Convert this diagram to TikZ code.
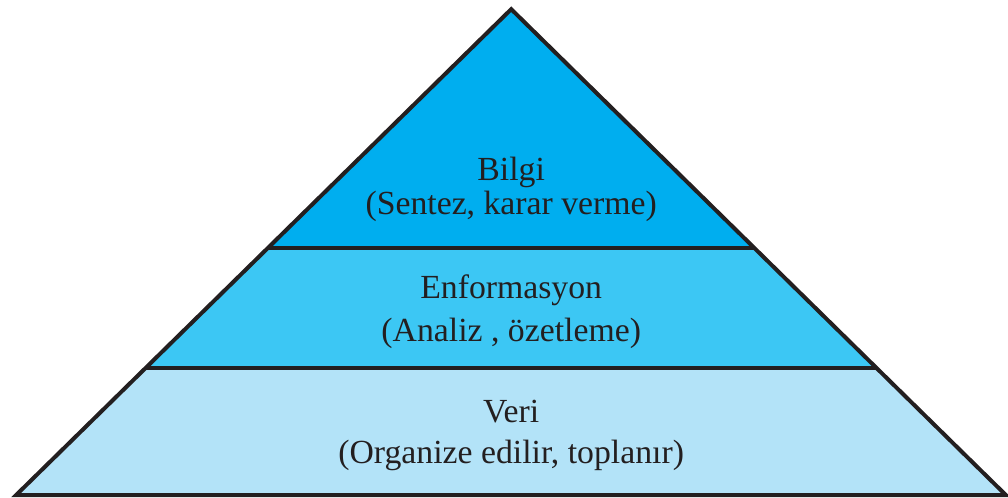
\documentclass[tikz,border=0pt]{standalone}
\usepackage{fontspec}
\setmainfont{Liberation Serif}
\usetikzlibrary{calc}
\definecolor{layerTop}{HTML}{00AEEF}
\definecolor{layerMid}{HTML}{3CC7F4}
\definecolor{layerLow}{HTML}{B3E3F8}
\definecolor{ink}{HTML}{231F20}

\begin{document}
\begin{tikzpicture}[edge/.style={draw=ink,line width=0.1cm,line join=miter}, label/.style={anchor=base,text=ink,inner sep=0pt,font=\fontsize{24}{28}\selectfont}]
  \useasboundingbox (0,0) rectangle (25.2,12.45);

  % Corners
  \coordinate (top) at (12.78,12.22);
  \coordinate (bl) at (0.4,0.07);
  \coordinate (br) at (25.15,0.07);
  \coordinate (l1) at ($(bl)!0.262!(top)$);
  \coordinate (r1) at ($(br)!0.262!(top)$);
  \coordinate (l2) at ($(bl)!0.5086!(top)$);
  \coordinate (r2) at ($(br)!0.5086!(top)$);

  % Layers
  \fill[layerLow] (bl) -- (br) -- (r1) -- (l1) -- cycle;
  \fill[layerMid] (l1) -- (r1) -- (r2) -- (l2) -- cycle;
  \fill[layerTop] (l2) -- (r2) -- (top) -- cycle;

  % Outline
  \draw[edge] (l1) -- (r1);
  \draw[edge] (l2) -- (r2);
  \draw[edge] (bl) -- (br) -- (top) -- cycle;

  % Labels
  \node[label] (bilgi) at (12.78,7.925) {Bilgi};
  \node[label] (bilgiAlt) at (12.78,7.075) {(Sentez, karar verme)};
  \node[label] (enf) at (12.78,4.975) {Enformasyon};
  \node[label] (enfAlt) at (12.78,3.9) {(Analiz , özetleme)};
  \node[label] (veri) at (12.78,1.875) {Veri};
  \node[label] (veriAlt) at (12.78,0.85) {(Organize edilir, toplanır)};
\end{tikzpicture}
\end{document}
